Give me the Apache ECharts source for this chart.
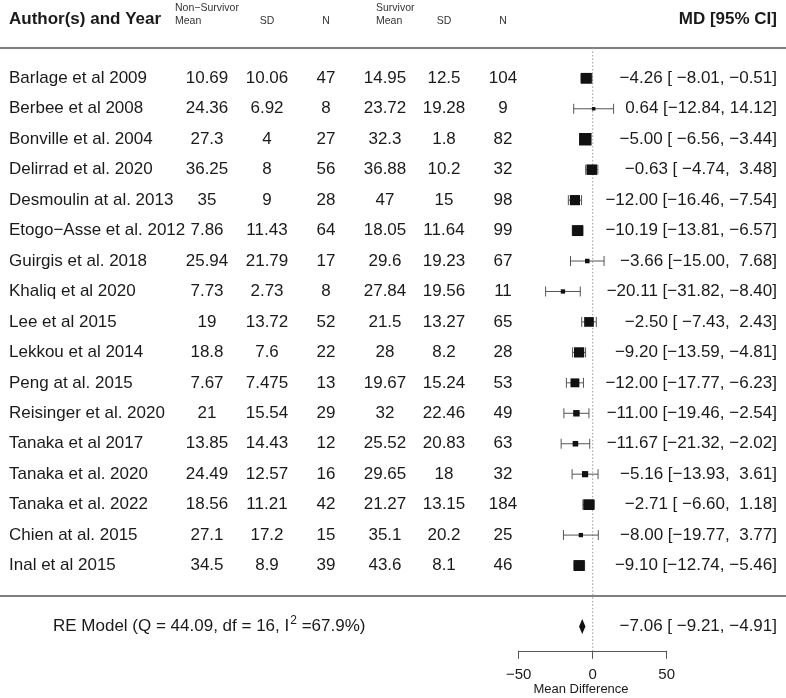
<!DOCTYPE html>
<html><head><meta charset="utf-8">
<script src="https://cdn.jsdelivr.net/npm/echarts@6/dist/echarts.min.js"></script>
<style>html,body{margin:0;padding:0;background:#fff}#c{width:786px;height:698px}</style>
</head><body><div id="c"></div>
<script>
// ---------------- data ----------------
const studies = ["Barlage et al 2009","Berbee et al 2008","Bonville et al. 2004","Delirrad et al. 2020","Desmoulin at al. 2013","Etogo\u2212Asse et al. 2012","Guirgis et al. 2018","Khaliq et al 2020","Lee et al 2015","Lekkou et al 2014","Peng at al. 2015","Reisinger et al. 2020","Tanaka et al 2017","Tanaka et al. 2020","Tanaka et al. 2022","Chien at al. 2015","Inal et al 2015"];
const nsMean = [10.69,24.36,27.3,36.25,35,7.86,25.94,7.73,19,18.8,7.67,21,13.85,24.49,18.56,27.1,34.5];
const nsSD   = [10.06,6.92,4,8,9,11.43,21.79,2.73,13.72,7.6,7.475,15.54,14.43,12.57,11.21,17.2,8.9];
const nsN    = [47,8,27,56,28,64,17,8,52,22,13,29,12,16,42,15,39];
const sMean  = [14.95,23.72,32.3,36.88,47,18.05,29.6,27.84,21.5,28,19.67,32,25.52,29.65,21.27,35.1,43.6];
const sSD    = [12.5,19.28,1.8,10.2,15,11.64,19.23,19.56,13.27,8.2,15.24,22.46,20.83,18,13.15,20.2,8.1];
const sN     = [104,9,82,32,98,99,67,11,65,28,53,49,63,32,184,25,46];
const md     = [-4.26,0.64,-5.00,-0.63,-12.00,-10.19,-3.66,-20.11,-2.50,-9.20,-12.00,-11.00,-11.67,-5.16,-2.71,-8.00,-9.10];
const ciLow  = [-8.01,-12.84,-6.56,-4.74,-16.46,-13.81,-15.00,-31.82,-7.43,-13.59,-17.77,-19.46,-21.32,-13.93,-6.60,-19.77,-12.74];
const ciHigh = [-0.51,14.12,-3.44,3.48,-7.54,-6.57,7.68,-8.40,2.43,-4.81,-6.23,-2.54,-2.02,3.61,1.18,3.77,-5.46];
const weights = [7.62,2.68,8.74,7.40,7.17,7.71,3.37,3.24,6.85,7.21,6.29,4.67,4.08,4.51,7.54,3.22,7.70];
const pooledMD = -7.06, pooledLow = -9.21, pooledHigh = -4.91;
const Q = 44.09, df = 16, I2 = 67.9;
const xTicks = [-50, 0, 50];

// ---------------- layout ----------------
const FONT = '"Liberation Sans", Arial, Helvetica, sans-serif';
const TOP = 2.2, H = 648.6, YMIN = -1.8, YMAX = 19.5;
const colX = [207, 267, 326, 385, 444, 503];
const K = studies.length;
const rowOf = i => K - i;

const minus = s => s.replace('-', '\u2212');
const f2 = v => minus(v.toFixed(2));
const lowStr = ciLow.concat([pooledLow]).map(f2);
const highStr = ciHigh.concat([pooledHigh]).map(f2);
const wL = Math.max(...lowStr.map(s => s.length));
const wH = Math.max(...highStr.map(s => s.length));
const annot = (e, j) => f2(e) + ' [' + lowStr[j].padStart(wL, ' ') + ', ' + highStr[j].padStart(wH, ' ') + ']';

function T(x, y, s, size, align, opt) {
  return {type: 'text', silent: true, style: Object.assign({
    text: s, x: x, y: y, fill: '#1a1a1a', font: size + 'px ' + FONT,
    align: align, textAlign: align, verticalAlign: 'middle', textVerticalAlign: 'middle'
  }, opt || {})};
}

const wMin = Math.min(...weights), wMax = Math.max(...weights);
const measure = document.createElement('canvas').getContext('2d');

const chart = echarts.init(document.getElementById('c'), null, {renderer: 'canvas'});
chart.setOption({
  animation: false,
  backgroundColor: '#fff',
  grid: [
    {left: 0, width: 786, top: TOP, height: H},
    {left: 518.7, width: 148, top: TOP, height: H}
  ],
  xAxis: [
    {gridIndex: 0, type: 'value', min: 0, max: 786, show: false},
    {gridIndex: 1, type: 'value', min: xTicks[0], max: xTicks[xTicks.length - 1], interval: xTicks[1] - xTicks[0],
      axisLine: {show: true, onZero: false, lineStyle: {color: '#555', width: 1}},
      axisTick: {show: true, length: 8, lineStyle: {color: '#555', width: 1}},
      splitLine: {show: false},
      axisLabel: {fontSize: 15, fontFamily: FONT, color: '#1a1a1a', margin: 17,
        formatter: v => (v < 0 ? '\u2212' + Math.abs(v) : String(v))}}
  ],
  yAxis: [
    {gridIndex: 0, type: 'value', min: YMIN, max: YMAX, show: false},
    {gridIndex: 1, type: 'value', min: YMIN, max: YMAX, show: false}
  ],
  graphic: [
    {type: 'text', x: 581, y: 689, silent: true, style: {text: 'Mean Difference', font: '13px ' + FONT, fill: '#1a1a1a', align: 'center', textAlign: 'center', verticalAlign: 'middle', textVerticalAlign: 'middle'}}
  ],
  series: [
    // horizontal separator lines
    {type: 'custom', xAxisIndex: 0, yAxisIndex: 0, silent: true, data: [[0, 18], [0, 0]],
      renderItem: (p, api) => {
        const a = api.coord([0, api.value(1)]), b = api.coord([786, api.value(1)]);
        return {type: 'line', shape: {x1: a[0], y1: a[1], x2: b[0], y2: b[1]}, style: {stroke: '#555', lineWidth: 1.5}};
      }},
    // reference dotted line at 0
    {type: 'custom', xAxisIndex: 1, yAxisIndex: 1, silent: true, clip: false, data: [[0, 18]],
      renderItem: (p, api) => {
        const a = api.coord([0, api.value(1)]), b = api.coord([0, YMIN]);
        return {type: 'line', shape: {x1: a[0], y1: a[1], x2: b[0], y2: b[1]}, style: {stroke: '#999', lineWidth: 1, lineDash: [1.5, 2]}};
      }},
    // table text
    {type: 'custom', xAxisIndex: 0, yAxisIndex: 0, silent: true,
      data: studies.map((s, i) => [0, rowOf(i), i]),
      renderItem: (p, api) => {
        const i = api.value(2);
        const y = api.coord([0, api.value(1)])[1];
        const vals = [nsMean[i], nsSD[i], nsN[i], sMean[i], sSD[i], sN[i]];
        const ch = [T(9, y, studies[i], 17, 'left')];
        vals.forEach((v, c) => ch.push(T(colX[c], y, String(v), 17, 'center')));
        ch.push(T(777, y, annot(md[i], i), 17, 'right'));
        return {type: 'group', children: ch};
      }},
    // headers + RE model text
    {type: 'custom', xAxisIndex: 0, yAxisIndex: 0, silent: true, data: [[0, 0]],
      renderItem: (p, api) => {
        const yH = api.coord([0, 18.95])[1];
        const yS = api.coord([0, 18.87])[1];
        const yTop = api.coord([0, 19.3])[1];
        const yRE = api.coord([0, -1])[1];
        const g = {fill: '#333'};
        measure.font = '17px ' + FONT;
        const pre = 'RE Model (Q = ' + Q.toFixed(2) + ', df = ' + df + ', I';
        const wPre = measure.measureText(pre).width;
        measure.font = '12px ' + FONT;
        const wSup = measure.measureText('2').width;
        return {type: 'group', children: [
          T(9, yH, 'Author(s) and Year', 17, 'left', {font: 'bold 17px ' + FONT}),
          T(777, yH, 'MD [95% CI]', 17, 'right', {font: 'bold 17px ' + FONT}),
          T(175, yTop, 'Non\u2212Survivor', 10.5, 'left', g),
          T(175, yS, 'Mean', 10.5, 'left', g),
          T(colX[1], yS, 'SD', 10.5, 'center', g),
          T(colX[2], yS, 'N', 10.5, 'center', g),
          T(376, yTop, 'Survivor', 10.5, 'left', g),
          T(376, yS, 'Mean', 10.5, 'left', g),
          T(colX[4], yS, 'SD', 10.5, 'center', g),
          T(colX[5], yS, 'N', 10.5, 'center', g),
          T(53, yRE, pre, 17, 'left'),
          T(53 + wPre + 1, yRE - 6, '2', 12, 'left'),
          T(53 + wPre + 1 + wSup, yRE, ' =' + I2.toFixed(1) + '%)', 17, 'left'),
          T(777, yRE, annot(pooledMD, K), 17, 'right')
        ]};
      }},
    // study estimates with CIs
    {type: 'custom', xAxisIndex: 1, yAxisIndex: 1, silent: true, clip: false,
      encode: {x: 0, y: 1},
      data: studies.map((s, i) => [md[i], rowOf(i), ciLow[i], ciHigh[i], weights[i]]),
      renderItem: (p, api) => {
        const y = api.value(1);
        const c = api.coord([api.value(0), y]);
        const a = api.coord([api.value(2), y]);
        const b = api.coord([api.value(3), y]);
        const sz = 3.5 + 9 * (api.value(4) - wMin) / (wMax - wMin);
        const ls = {stroke: '#555', lineWidth: 1};
        return {type: 'group', children: [
          {type: 'line', shape: {x1: a[0], y1: a[1], x2: b[0], y2: b[1]}, style: ls},
          {type: 'line', shape: {x1: a[0], y1: a[1] - 5, x2: a[0], y2: a[1] + 5}, style: ls},
          {type: 'line', shape: {x1: b[0], y1: b[1] - 5, x2: b[0], y2: b[1] + 5}, style: ls},
          {type: 'rect', shape: {x: c[0] - sz / 2, y: c[1] - sz / 2, width: sz, height: sz}, style: {fill: '#111'}}
        ]};
      }},
    // pooled diamond
    {type: 'custom', xAxisIndex: 1, yAxisIndex: 1, silent: true, clip: false,
      encode: {x: 0, y: 1},
      data: [[pooledMD, -1, pooledLow, pooledHigh]],
      renderItem: (p, api) => {
        const y = api.value(1);
        const c = api.coord([api.value(0), y]);
        const a = api.coord([api.value(2), y]);
        const b = api.coord([api.value(3), y]);
        const h = 7.5;
        return {type: 'polygon', shape: {points: [[a[0], a[1]], [c[0], c[1] - h], [b[0], b[1]], [c[0], c[1] + h]]}, style: {fill: '#111'}};
      }}
  ]
});
</script>
</body></html>
